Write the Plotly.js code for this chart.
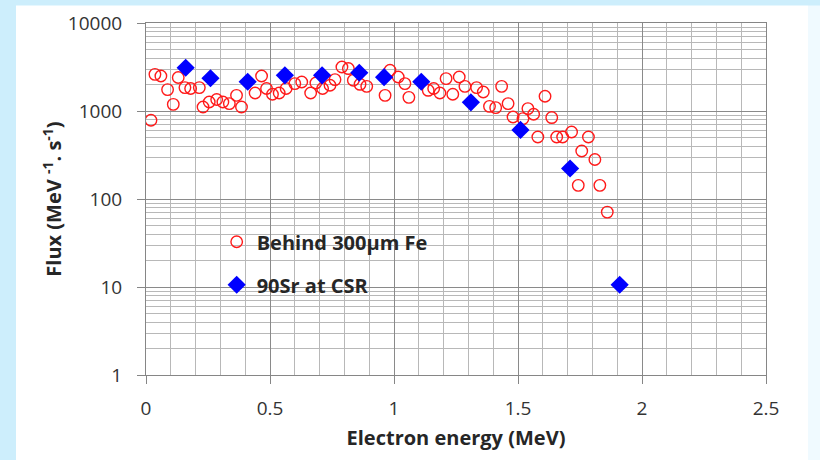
<!DOCTYPE html>
<html>
<head>
<meta charset="utf-8">
<script src="https://cdn.plot.ly/plotly-3.0.1.min.js"></script>
<style>html,body{margin:0;padding:0;background:#fff;}#chart{width:820px;height:460px;}</style>
</head>
<body>
<div id="chart"></div>
<script>
// Behind 300µm Fe (red open circles)
const feEnergy = [0.02,0.036,0.06,0.087,0.11,0.13,0.157,0.18,0.215,0.23,0.255,0.285,0.31,0.336,0.365,0.385,0.44,0.466,0.486,0.51,0.537,0.565,0.60,0.628,0.664,0.685,0.712,0.742,0.762,0.79,0.816,0.836,0.863,0.89,0.964,0.984,1.017,1.044,1.06,1.138,1.16,1.185,1.21,1.237,1.263,1.286,1.333,1.36,1.385,1.41,1.434,1.46,1.48,1.52,1.54,1.563,1.58,1.609,1.636,1.656,1.68,1.716,1.743,1.757,1.784,1.81,1.83,1.86];
const feFlux   = [784,2610,2500,1750,1190,2400,1845,1800,1845,1110,1265,1350,1265,1213,1507,1110,1603,2500,1800,1548,1603,1800,2048,2135,1603,2080,1800,1960,2275,3160,3035,2233,2010,1905,1507,2900,2432,2048,1430,1718,1800,1603,2335,1548,2432,1905,1845,1644,1130,1092,1905,1213,855,820,1065,918,507,1470,842,507,507,577,143,351,507,281,143,71];
// 90Sr at CSR (blue diamonds)
const srEnergy = [0.16,0.26,0.41,0.56,0.71,0.86,0.96,1.11,1.31,1.51,1.71,1.91];
const srFlux   = [3100,2355,2150,2546,2546,2720,2420,2150,1256,610,222,10.6];

const xTickVals = [0,0.5,1,1.5,2,2.5];
const xTickText = ['0','0.5','1','1.5','2','2.5'];
const yTickVals = [1,10,100,1000,10000];
const yTickText = ['1','10','100','1000','10000'];

const FONT = 'Open Sans, Lato, sans-serif';

const traces = [
  {x: feEnergy, y: feFlux, type:'scatter', mode:'markers', name:'Behind 300µm Fe', legendgroup:'a',
   marker:{symbol:'circle-open', size:11.5, color:'#ff1a1a', line:{width:1.4, color:'#ff1a1a'}}},
  {x: srEnergy, y: srFlux, type:'scatter', mode:'markers', name:'90Sr at CSR', legendgroup:'b',
   marker:{symbol:'diamond', size:14, color:'#0000ff', line:{width:0}}}
];

const layout = {
  width:820, height:460,
  margin:{l:146, r:54, t:22.5, b:85},
  paper_bgcolor:'#cdeefc', plot_bgcolor:'#ffffff',
  showlegend:true,
  font:{family:FONT, color:'#333333', size:16},
  legend:{x:0.114, xanchor:'left', y:0.434, yanchor:'top', bgcolor:'rgba(0,0,0,0)',
          font:{family:FONT, size:20, color:'#262626', weight:'bold'}, tracegroupgap:14, traceorder:'grouped'},
  xaxis:{range:[0,2.5], tickmode:'array', tickvals:xTickVals, ticktext:xTickText,
         showgrid:true, gridcolor:'#8a8a8a', gridwidth:1,
         minor:{dtick:0.1, showgrid:true, gridcolor:'#b8b8b8', gridwidth:1},
         showline:true, linecolor:'#868686', linewidth:1, mirror:true,
         ticks:'outside', ticklen:8, tickcolor:'#868686', zeroline:false,
         ticklabelstandoff:8,
         tickfont:{family:FONT, size:19, color:'#333333'},
         title:{text:'Electron energy (MeV)', font:{family:FONT, size:20, color:'#262626', weight:'bold'}, standoff:11}},
  yaxis:{type:'log', range:[0,4], tickmode:'array', tickvals:yTickVals, ticktext:yTickText,
         showgrid:true, gridcolor:'#8a8a8a', gridwidth:1,
         minor:{dtick:'D1', showgrid:true, gridcolor:'#b8b8b8', gridwidth:1},
         showline:true, linecolor:'#868686', linewidth:1, mirror:true,
         ticks:'outside', ticklen:8, tickcolor:'#868686', zeroline:false,
         ticklabelstandoff:11,
         tickfont:{family:FONT, size:19, color:'#333333'},
         title:{text:'Flux (MeV <sup>-1</sup>. s<sup>-1</sup>)', font:{family:FONT, size:20, color:'#262626', weight:'bold'}, standoff:0}},
  shapes:[
    {type:'rect', xref:'paper', yref:'paper', x0:(16-146)/620, x1:(808-146)/620, y0:(375-460)/352.5, y1:(375-5)/352.5,
     fillcolor:'#ffffff', line:{width:0}, layer:'below'},
    {type:'rect', xref:'paper', yref:'paper', x0:(808-146)/620, x1:(820-146)/620, y0:(375-460)/352.5, y1:(375-5)/352.5,
     fillcolor:'#f0faff', line:{width:0}, layer:'below'}
  ]
};

Plotly.newPlot('chart', traces, layout, {displayModeBar:false, staticPlot:true});
</script>
</body>
</html>
